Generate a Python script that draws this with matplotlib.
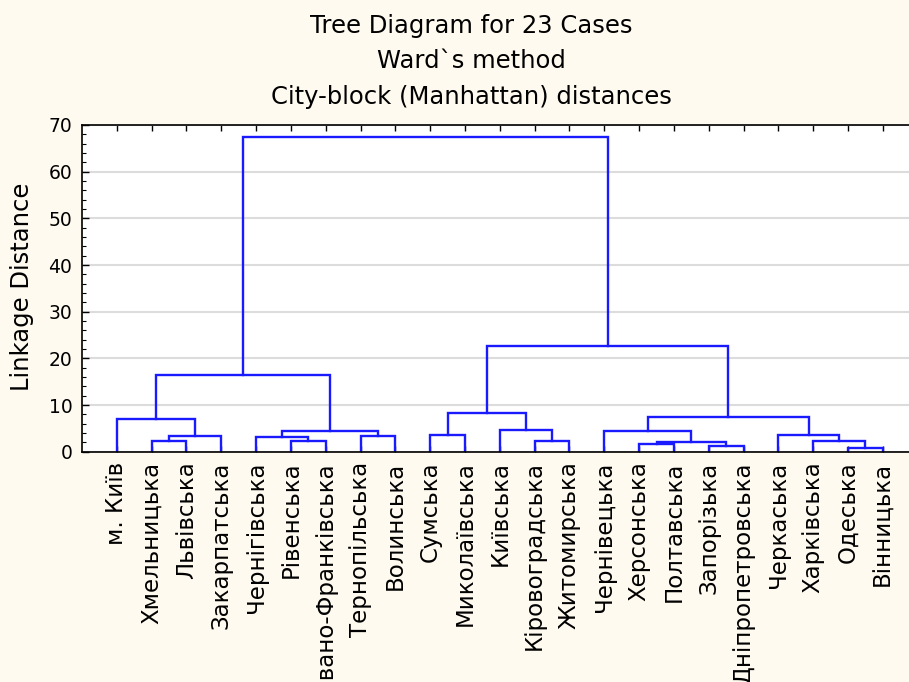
import matplotlib
matplotlib.use("Agg")
import matplotlib.pyplot as plt
from matplotlib.ticker import MultipleLocator, FixedLocator

# ---------------- data ----------------
leaf_labels = [
    "м. Київ", "Хмельницька", "Львівська", "Закарпатська", "Чернігівська",
    "Рівенська", "Івано-Франківська", "Тернопільська", "Волинська", "Сумська",
    "Миколаївська", "Київська", "Кіровоградська", "Житомирська", "Чернівецька",
    "Херсонська", "Полтавська", "Запорізька", "Дніпропетровська", "Черкаська",
    "Харківська", "Одеська", "Вінницька",
]
# merges: (child_a, child_b, linkage distance); new cluster ids start at 23
merge_a = [21, 17, 15, 25, 20, 1, 5, 12, 4, 28, 7, 9, 19, 14, 31, 11, 0, 36, 34, 39, 41, 42]
merge_b = [22, 18, 16, 24, 23, 2, 6, 13, 29, 3, 8, 10, 27, 26, 33, 30, 32, 35, 38, 37, 40, 43]
merge_h = [0.78, 1.14, 1.71, 2.07, 2.28, 2.35, 2.35, 2.35, 3.2, 3.4, 3.4, 3.57, 3.57,
           4.42, 4.42, 4.7, 7.07, 7.42, 8.35, 16.4, 22.7, 67.5]

title_lines = ["Tree Diagram for 23 Cases", "Ward`s method", "City-block (Manhattan) distances"]
y_label = "Linkage Distance"

# ---------------- figure ----------------
W, H = 909, 682
fig = plt.figure(figsize=(W / 100, H / 100), dpi=100, facecolor="#FFFAEF")
ax_left, ax_bottom, ax_top = 82 / W, (H - 451.7) / H, (H - 125) / H
leaf_step = 34.82
ax = fig.add_axes([ax_left, ax_bottom, 24 * leaf_step / W, ax_top - ax_bottom])
ax.set_facecolor("white")

n = len(leaf_labels)
xpos = {i: i + 1 for i in range(n)}
hpos = {i: 0.0 for i in range(n)}
line_color = "#1a1aff"
for k, (a, b, h) in enumerate(zip(merge_a, merge_b, merge_h)):
    xa, xb = xpos[a], xpos[b]
    ax.plot([xa, xa, xb, xb], [hpos[a], h, h, hpos[b]], color=line_color, lw=1.7,
            solid_joinstyle="miter", zorder=3)
    cid = n + k
    xpos[cid] = (xa + xb) / 2
    hpos[cid] = h

ax.set_xlim(0, 24)
ax.set_ylim(0, 70)

ax.yaxis.set_major_locator(MultipleLocator(10))
ax.yaxis.set_minor_locator(MultipleLocator(2))
ax.xaxis.set_major_locator(FixedLocator(list(range(1, n + 1))))
ax.set_xticklabels(leaf_labels, rotation=90, fontsize=16.5, ha="center", va="top")
ax.tick_params(axis="x", which="major", direction="in", length=4, width=1,
               top=True, bottom=True, pad=7, colors="black")
ax.tick_params(axis="y", which="major", direction="in", length=5, width=1,
               labelsize=13.5, pad=7)
ax.tick_params(axis="y", which="minor", direction="in", length=3, width=0.8)
ax.grid(axis="y", which="major", color="#dcdcdc", lw=1.5, zorder=0)
ax.set_axisbelow(True)
for s in ["left", "top", "bottom"]:
    ax.spines[s].set_color("black")
    ax.spines[s].set_linewidth(1.2)
    ax.spines[s].set_zorder(4)
ax.spines["right"].set_visible(False)

tx = 471 / W
for yy, t in zip([26, 61, 97], title_lines):
    fig.text(tx, 1 - yy / H, t, ha="center", va="center", fontsize=17.5)
fig.text(22 / W, 1 - 287 / H, y_label, rotation=90, ha="center", va="center", fontsize=17.5)

fig.savefig("out.png", dpi=100, facecolor=fig.get_facecolor())
